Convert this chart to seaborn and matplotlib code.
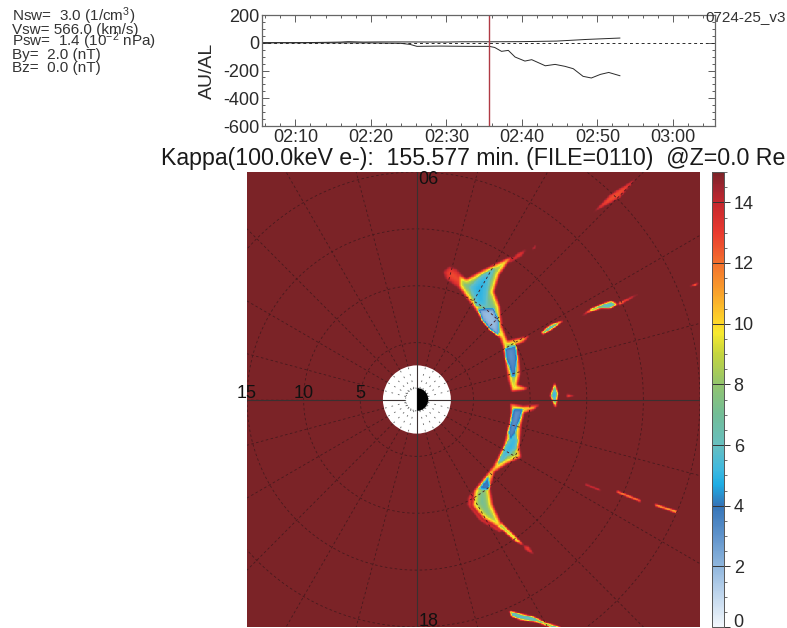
import numpy as np
import seaborn as sn
import matplotlib
matplotlib.use('Agg')
import matplotlib.pyplot as plt
from matplotlib import colors as mcolors
from matplotlib.path import Path
from matplotlib.patches import Circle, Wedge
from matplotlib.ticker import MultipleLocator

# solar wind text block
info_lines = ['Nsw=  3.0 (1/cm$^{3}$)', 'Vsw= 566.0 (km/s)', 'Psw=  1.4 (10$^{-2}$ nPa)', 'By=  2.0 (nT)', 'Bz=  0.0 (nT)']

# AU / AL traces, minutes of the day
now_min = 155.577
au_t = [125.6, 131, 134, 136, 137, 139, 141, 144, 150, 152, 155.7, 160, 164.6, 168.6, 173]
au_v = [0, 1, 3, 5, 8, 5, 6, 6, 5, 7, 7, 8, 12, 24, 34]
al_t = [125.6, 140, 142, 143.9, 145.2, 146.1, 149.2, 152.7, 155.7, 156.4, 157.3, 158.2, 159.1, 160.4, 161.3, 163.1, 164.4, 165.7, 166.8, 168.1, 169.2, 170.4, 171.5, 173]
al_v = [0, -1, -3, -4, -12, -26, -24, -26, -26, -34, -62, -55, -103, -132, -122, -166, -156, -170, -187, -242, -254, -228, -214, -238]
time_ticks = [130, 140, 150, 160, 170, 180]
time_labels = ['02:10', '02:20', '02:30', '02:40', '02:50', '03:00']

# colour bar
cbar_levels = [0, 1, 2, 3, 4, 4.7, 5.2, 6, 7, 8, 9, 9.7, 10, 11, 12, 13, 14, 14.5, 15]
cbar_colors = ['#f2f7fc', '#c2d8ee', '#8fb6dd', '#5f93cb', '#3574b8', '#1eade4', '#3fb9df', '#67bfc0', '#72bd97',
               '#92c46e', '#c4d53e', '#f7e92f', '#fdd92a', '#f9a32b', '#f3702d', '#e93a2f', '#c5272e', '#9f2530', '#7b2327']

# low kappa regions in Re: outlines, then (top, core, falloff)
crescent_n = [(3.65, 11.10), (4.38, 10.66), (5.85, 11.45), (7.91, 12.42), (8.50, 12.57), (8.06, 11.98), (7.32, 10.95),
              (6.88, 9.48), (7.38, 8.16), (7.56, 6.39), (8.06, 5.21), (9.97, 5.66), (9.53, 5.07), (8.85, 4.77),
              (9.09, 3.16), (9.15, 2.27), (8.94, 1.33), (9.82, 1.04), (9.53, 0.80), (8.35, 0.66), (8.06, 1.68),
              (7.76, 3.45), (7.56, 4.63), (7.32, 5.36), (5.85, 6.83), (5.26, 7.71), (4.38, 8.89), (3.65, 9.92)]
blob_n = [(2.3, 11.24), (2.85, 11.75), (3.5, 11.5), (4.38, 10.66), (4.68, 9.63), (4.38, 8.89), (3.65, 9.75), (2.55, 10.55)]
tail_n = [(8.06, 12.13), (8.94, 12.92), (9.68, 13.21), (9.32, 12.63), (8.2, 11.98)]
core_n1 = [(4.6, 9.9), (5.6, 10.9), (6.9, 11.6), (6.5, 10.5), (6.3, 9.33), (6.2, 8.1), (5.2, 8.2)]
core_n2 = [(5.4, 7.95), (6.8, 8.0), (7.28, 6.83), (7.2, 5.6), (6.4, 6.2), (5.75, 7.0)]
core_n3 = [(7.76, 4.48), (8.74, 4.77), (8.88, 3.6), (8.65, 1.98), (8.35, 1.98), (8.15, 2.86), (7.85, 3.6)]
crescent_s = [(8.21, -0.32), (9.38, -0.53), (10.85, -0.44), (10.41, -0.91), (9.53, -1.21), (9.24, -2.29), (9.09, -4.21),
              (9.24, -5.09), (8.65, -5.38), (7.91, -5.74), (6.88, -6.41), (6.5, -7.74), (6.74, -9.21), (7.47, -10.82),
              (7.62, -11.56), (5.85, -10.53), (4.82, -9.35), (4.97, -8.03),
              (6.0, -6.71), (6.74, -5.82), (7.62, -4.06), (8.06, -2.44), (8.27, -1.26)]
tip_s = [(7.47, -10.82), (8.6, -11.9), (9.5, -12.85), (8.7, -12.5), (7.62, -11.56), (7.0, -11.2)]
rim_s = [(4.97, -8.03), (4.5, -8.6), (4.45, -9.3), (5.6, -10.7), (7.3, -11.7), (7.62, -11.56), (5.85, -10.53), (4.82, -9.35)]
core_s1 = [(8.5, -0.82), (9.38, -0.82), (9.09, -1.85), (8.65, -3.03), (8.21, -3.62), (8.06, -2.88)]
core_s2 = [(7.77, -4.06), (8.65, -2.74), (8.94, -3.62), (8.79, -4.35), (7.62, -5.38), (7.09, -5.74)]
core_s3 = [(5.41, -7.88), (6.29, -6.71), (6.5, -7.59), (6.29, -7.97)]
tail_s = [(9.38, -12.8), (9.9, -12.9), (10.35, -13.65), (9.6, -13.25)]
lens = [(12.18, 1.5), (12.5, 0.53), (12.27, -0.79), (11.75, 0.35)]
lens_red = [(13.24, 0.5), (13.9, 0.35), (13.24, 0.15)]
streak_ne = [(15.56, 16.44), (17.03, 18.0), (19.39, 19.47), (17.92, 17.71), (15.86, 16.62)]
speck_ne = [(10.12, 13.15), (10.56, 13.68), (10.42, 13.27)]
streak_e1 = [(14.53, 7.33), (15.42, 8.0), (16.59, 8.5), (17.18, 8.65), (17.77, 8.39), (17.03, 7.97), (16.3, 8.0), (15.27, 7.71)]
streak_e2 = [(17.77, 8.5), (19.68, 9.33), (17.86, 8.3)]
streak_e3 = [(11.0, 5.89), (11.74, 6.53), (12.97, 6.97), (12.03, 6.24), (11.15, 5.74)]
streak_e4 = [(24.03, 9.92), (24.83, 10.27), (24.68, 10.03)]
streak_se1 = [(14.83, -7.38), (16.15, -7.9), (16.24, -8.06), (14.92, -7.53)]
streak_se2 = [(17.65, -8.03), (19.68, -8.83), (19.77, -9.0), (17.74, -8.21)]
streak_se3 = [(21.0, -9.18), (22.95, -9.8), (22.95, -9.97), (21.09, -9.36)]
streak_bot = [(8.15, -18.57), (9.23, -18.86), (10.26, -19.07), (11.44, -19.65), (12.76, -20.0), (12.03, -20.1), (10.56, -19.57), (9.09, -19.36), (8.35, -19.07)]

regions = [(crescent_n, 15, 6.2, 0.32), (blob_n, 15, 12.5, 0.25), (tail_n, 15, 12.8, 0.12),
           (core_n1, 6.4, 4.7, 0.35), (core_n2, 4.0, 1.8, 0.14), (core_n3, 4.6, 3.0, 0.2),
           (crescent_s, 15, 6.6, 0.32), (tip_s, 15, 8, 0.08), (rim_s, 15, 12.8, 0.1), (tail_s, 15, 13, 0.05),
           (core_s1, 4.6, 2.8, 0.2), (core_s2, 6.5, 4.8, 0.25), (core_s3, 5, 3.6, 0.15),
           (lens, 15, 4.5, 0.1), (lens_red, 15, 12.5, 0.04),
           (streak_ne, 15, 12.6, 0.08), (speck_ne, 15, 12.6, 0.04),
           (streak_e1, 15, 5.5, 0.06), (streak_e2, 15, 11, 0.03), (streak_e3, 15, 5.5, 0.04), (streak_e4, 15, 9.5, 0.03),
           (streak_se1, 15, 12, 0.03), (streak_se2, 15, 9, 0.02), (streak_se3, 15, 9, 0.02), (streak_bot, 15, 5.5, 0.05)]

sn.set_theme(style='white')
plt.rcParams['font.family'] = ['Liberation Sans', 'DejaVu Sans']
plt.rcParams['mathtext.fontset'] = 'custom'
plt.rcParams['mathtext.rm'] = 'Liberation Sans'
plt.rcParams['mathtext.default'] = 'regular'
plt.rcParams['axes.unicode_minus'] = False

W, H = 787, 628
ink = '#2a2a2a'


def px_rect(left, top, right, bottom):
    return [left / W, 1 - bottom / H, (right - left) / W, (bottom - top) / H]


def seg_dist(px, py, verts):
    a = np.array(verts)
    b = np.roll(a, -1, axis=0)
    best = np.full(px.shape, np.inf)
    for p, q in zip(a, b):
        d = q - p
        u = np.clip(((px - p[0]) * d[0] + (py - p[1]) * d[1]) / (d @ d), 0, 1)
        best = np.minimum(best, np.hypot(px - p[0] - u * d[0], py - p[1] - u * d[1]))
    return best


# build the kappa grid
step = 0.0625
xc = np.arange(-15 + step / 2, 25, step)
yc = np.arange(20 - step / 2, -20, -step)
gx, gy = np.meshgrid(xc, yc)
kappa = np.full(gx.shape, 15.0)
for verts, top, core, fall in regions:
    inside = Path(verts + [verts[0]]).contains_points(np.c_[gx.ravel(), gy.ravel()]).reshape(gx.shape)
    d = seg_dist(gx[inside], gy[inside], verts)
    kappa[inside] = np.minimum(kappa[inside], core + (top - core) * np.exp(-d / fall))
# picture is soft, smooth a little
for _ in range(3):
    pad = np.pad(kappa, 1, mode='edge')
    kappa = (pad[:-2, 1:-1] + pad[2:, 1:-1] + pad[1:-1, :-2] + pad[1:-1, 2:] + 2 * pad[1:-1, 1:-1]) / 6

fig = plt.figure(figsize=(W / 100, H / 100), dpi=100)

# top panel
ax_top = fig.add_axes(px_rect(262, 15, 715, 126))
sn.lineplot(x=au_t, y=au_v, ax=ax_top, color=ink, lw=0.7, estimator=None)
sn.lineplot(x=al_t, y=al_v, ax=ax_top, color=ink, lw=0.7, estimator=None)
ax_top.axhline(0, color=ink, lw=0.7, ls=(0, (3, 3)))
ax_top.axvline(now_min, color='#b03a44', lw=1)
ax_top.set_xlim(now_min - 30, now_min + 30)
ax_top.set_ylim(-600, 200)
ax_top.set_xticks(time_ticks)
ax_top.set_xticklabels(time_labels)
ax_top.set_yticks([-600, -400, -200, 0, 200])
ax_top.xaxis.set_minor_locator(MultipleLocator(2))
ax_top.yaxis.set_minor_locator(MultipleLocator(50))
ax_top.tick_params(which='major', direction='in', length=5, width=0.6, color='#444444', top=True, right=True,
                   bottom=True, left=True, labelsize=13, pad=2, labelcolor=ink)
ax_top.tick_params(which='minor', direction='in', length=2.2, width=0.6, color='#444444', top=True, right=True,
                   bottom=True, left=True)
for sp in ax_top.spines.values():
    sp.set_color('#666666')
    sp.set_linewidth(0.9)
ax_top.set_ylabel('AU/AL', fontsize=14, color=ink, labelpad=5)

for i, line in enumerate(info_lines):
    fig.text(12 / W, 1 - (21 + i * 12.7) / H, line, fontsize=11, color='#333333', va='baseline', ha='left')
fig.text(786 / W, 1 - 21 / H, '0724-25_v3', fontsize=11, color='#333333', ha='right', va='baseline')
fig.text(473.5 / W, 1 - 165 / H, 'Kappa(100.0keV e-):  155.577 min. (FILE=0110)  @Z=0.0 Re', fontsize=16.7, color='#1a1a1a',
         ha='center', va='baseline')

# map and colour bar
cmap = mcolors.LinearSegmentedColormap.from_list('kappa', [(v / 15, c) for v, c in zip(cbar_levels, cbar_colors)], N=512)
ax_map = fig.add_axes(px_rect(247, 172, 700, 627))
cax = fig.add_axes(px_rect(712, 172, 724, 627))
sn.heatmap(kappa, ax=ax_map, cbar_ax=cax, cmap=cmap, vmin=0, vmax=15, xticklabels=False, yticklabels=False)
cbar = ax_map.collections[0].colorbar
cbar.set_ticks(list(range(0, 15, 2)))
cbar.ax.yaxis.set_minor_locator(MultipleLocator(0.5))
cax.tick_params(which='major', direction='out', length=4, width=0.7, color='#333333', labelsize=13, pad=3, right=True, labelcolor=ink)
cax.tick_params(which='minor', direction='out', length=2.5, width=0.6, color='#555555', right=True)
cax.hlines(list(range(0, 15, 2)), 0, 1, color='#333333', lw=0.7, transform=cax.get_yaxis_transform())
cax.get_yticklabels()[0].set_va('baseline')
cbar.outline.set_visible(True)
cbar.outline.set_edgecolor('#555555')
cbar.outline.set_linewidth(0.7)

# grid goes on a second axes with Re units
ov = fig.add_axes(ax_map.get_position(), facecolor='none')
ov.set_xlim(-15, 25)
ov.set_ylim(-20, 20)
ov.axis('off')
grid_c = '#471a1e'
dash = (0, (3, 3))
theta = np.radians(np.arange(0, 361, 1))
for r in [5, 10, 15, 20, 25]:
    ov.plot(r * np.cos(theta), r * np.sin(theta), color=grid_c, lw=0.6, ls=dash)
for ang in np.arange(0, 360, 15):
    a = np.radians(ang)
    ov.plot([3 * np.cos(a), 40 * np.cos(a)], [3 * np.sin(a), 40 * np.sin(a)], color=grid_c, lw=0.6, ls=dash)
ov.add_patch(Circle((0, 0), 3, fc='white', ec='none', zorder=3))
for ang in np.arange(0, 360, 15):
    a = np.radians(ang)
    ov.plot([1 * np.cos(a), 3 * np.cos(a)], [1 * np.sin(a), 3 * np.sin(a)], color='#666666', lw=0.6, ls=(0, (2, 6)), zorder=4)
ov.add_patch(Circle((0, 0), 1, fc='white', ec='#555555', lw=0.7, ls=':', zorder=5))
ov.add_patch(Wedge((0, 0), 1, -90, 90, fc='black', ec='none', zorder=6))
ov.axhline(0, color='#3a3030', lw=0.8, zorder=4.5)
ov.axvline(0, color='#3a3030', lw=0.8, zorder=4.5)
for x0, lab in zip([-15, -10, -5], ['15', '10', '5']):
    ov.text(x0, 0.1, lab, fontsize=13, ha='center', va='baseline', color='#111111', clip_on=False, zorder=7)
ov.text(1.0, 18.98, '06', fontsize=13, ha='center', va='baseline', color='#111111', clip_on=False, zorder=7)
ov.text(1.0, -19.95, '18', fontsize=13, ha='center', va='baseline', color='#111111', clip_on=False, zorder=7)

fig.savefig('out.png', dpi=100, facecolor='white')
